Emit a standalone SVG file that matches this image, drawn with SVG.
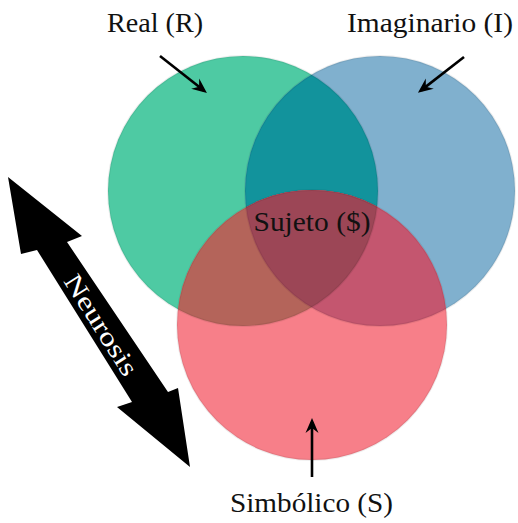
<svg xmlns="http://www.w3.org/2000/svg" width="518" height="523" viewBox="0 0 518 523">
  <style>
    text { font-family: 'Liberation Serif', 'DejaVu Serif', serif; }
    .lbl { font-size: 28px; fill: #111; }
    .neu { font-size: 26px; fill: #fff; }
    .conn { stroke: #000; stroke-width: 2.6; fill: none; marker-end: url(#ah); }
    .rim { fill: none; stroke: #000; stroke-opacity: 0.07; stroke-width: 2; }
  </style>
  <defs>
    <marker id="ah" viewBox="-16 -8 18 16" refX="-4" refY="0" markerWidth="18" markerHeight="16" markerUnits="userSpaceOnUse" orient="auto">
      <path d="M0,0 L-15,-6.5 L-10,0 L-15,6.5 Z" fill="#000"/>
    </marker>
    <clipPath id="cG"><circle cx="243" cy="191" r="135"/></clipPath>
    <clipPath id="cB"><circle cx="380" cy="191" r="135"/></clipPath>
  </defs>
  <rect width="518" height="523" fill="#fff"/>

  <g id="real">
    <circle cx="243" cy="191" r="135" fill="#4ECAA3"/>
  </g>
  <g id="imaginario">
    <circle cx="380" cy="191" r="135" fill="#80B0CE"/>
    <circle cx="380" cy="191" r="135" fill="#12939C" clip-path="url(#cG)"/>
  </g>
  <g id="simbolico">
    <circle cx="312" cy="325" r="135" fill="#F77F89"/>
    <circle cx="312" cy="325" r="135" fill="#B4645A" clip-path="url(#cG)"/>
    <circle cx="312" cy="325" r="135" fill="#C4566F" clip-path="url(#cB)"/>
    <g clip-path="url(#cB)">
      <circle cx="312" cy="325" r="135" fill="#9C4656" clip-path="url(#cG)"/>
    </g>
  </g>
  <g id="rims">
    <circle class="rim" cx="243" cy="191" r="135"/>
    <circle class="rim" cx="380" cy="191" r="135"/>
    <circle class="rim" cx="312" cy="325" r="135"/>
  </g>

  <g id="sujeto">
    <text class="lbl" font-family="Liberation Serif, DejaVu Serif, serif" x="312" y="231" text-anchor="middle" textLength="117" lengthAdjust="spacingAndGlyphs">Sujeto ($)</text>
  </g>

  <g id="labels">
    <text class="lbl" font-family="Liberation Serif, DejaVu Serif, serif" x="107" y="32" textLength="96" lengthAdjust="spacingAndGlyphs">Real (R)</text>
    <text class="lbl" font-family="Liberation Serif, DejaVu Serif, serif" x="347" y="32" textLength="166" lengthAdjust="spacingAndGlyphs">Imaginario (I)</text>
    <text class="lbl" font-family="Liberation Serif, DejaVu Serif, serif" x="230" y="512" textLength="163" lengthAdjust="spacingAndGlyphs">Simbólico (S)</text>
  </g>

  <g id="connectors">
    <line class="conn" x1="160" y1="56" x2="203.8" y2="90.5"/>
    <line class="conn" x1="464" y1="57" x2="421.1" y2="90.4"/>
    <line class="conn" x1="312" y1="477" x2="312" y2="422"/>
  </g>

  <g id="neurosis">
    <polygon points="8,177 82,236 67,242 168,392 178,388 190,467 117,407 132,402 37,250 21,254" fill="#000"/>
    <text class="neu" font-family="Liberation Serif, DejaVu Serif, serif" x="0" y="0" text-anchor="middle" dy="0.33em" textLength="115" lengthAdjust="spacingAndGlyphs" transform="translate(101,325) rotate(57.7)">Neurosis</text>
  </g>
</svg>
